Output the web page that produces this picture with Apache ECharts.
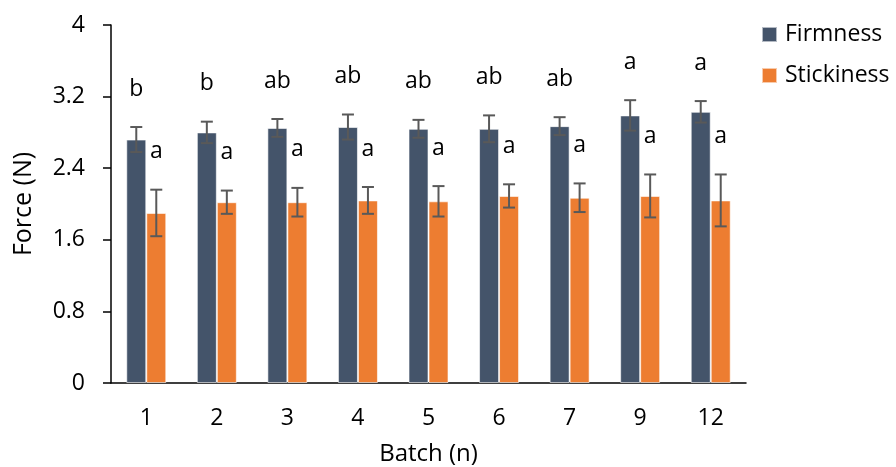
<!DOCTYPE html>
<html>
<head>
<meta charset="utf-8">
<script src="https://cdn.jsdelivr.net/npm/echarts@6/dist/echarts.min.js"></script>
<style>html,body{margin:0;padding:0;background:#fff}#c{width:896px;height:467px}</style>
</head>
<body>
<div id="c"></div>
<script>
var categories = ['1', '2', '3', '4', '5', '6', '7', '9', '12'];
var firmness = [2.72, 2.80, 2.85, 2.86, 2.84, 2.84, 2.87, 2.99, 3.03];
var firmnessErr = [0.14, 0.12, 0.10, 0.14, 0.10, 0.15, 0.10, 0.17, 0.12];
var stickiness = [1.90, 2.02, 2.02, 2.04, 2.03, 2.09, 2.07, 2.09, 2.04];
var stickinessErr = [0.26, 0.13, 0.16, 0.15, 0.17, 0.13, 0.16, 0.24, 0.29];
var firmnessLetters = ['b', 'b', 'ab', 'ab', 'ab', 'ab', 'ab', 'a', 'a'];
var stickinessLetters = ['a', 'a', 'a', 'a', 'a', 'a', 'a', 'a', 'a'];
var yTicks = [0, 0.8, 1.6, 2.4, 3.2, 4];

var FONT = '"Open Sans"';
var BAR_W = 20;
var COLORS = ['#44546A', '#ED7D31'];

function errSeries(name, vals, errs, letters, side) {
  var data = vals.map(function (v, i) { return [i, v, errs[i]]; });
  return {
    type: 'custom',
    name: name + '-err',
    data: data,
    z: 10,
    silent: true,
    renderItem: function (params, api) {
      var i = api.value(0), v = api.value(1), e = api.value(2);
      var c = api.coord([i, v]);
      var x = c[0] + side * BAR_W / 2;
      var top = api.coord([i, v + e])[1];
      var bot = api.coord([i, v - e])[1];
      var cap = 6;
      var st = { stroke: '#595959', lineWidth: 2 };
      return {
        type: 'group',
        children: [
          { type: 'line', shape: { x1: x, y1: top, x2: x, y2: bot }, style: st },
          { type: 'line', shape: { x1: x - cap, y1: top, x2: x + cap, y2: top }, style: st },
          { type: 'line', shape: { x1: x - cap, y1: bot, x2: x + cap, y2: bot }, style: st },
          { type: 'text', style: { x: x, y: top - 38, text: letters[params.dataIndex], fill: '#000',
              font: '23px ' + FONT, textAlign: 'center', textVerticalAlign: 'middle' } }
        ]
      };
    }
  };
}

var chart = echarts.init(document.getElementById('c'));
chart.setOption({
  animation: false,
  textStyle: { fontFamily: FONT },
  grid: { left: 111, right: 150, top: 25, bottom: 84, containLabel: false, outerBoundsMode: 'none' },
  legend: {
    orient: 'vertical', left: 756, top: 18,
    data: ['Firmness', 'Stickiness'],
    icon: 'rect', itemWidth: 15, itemHeight: 15, itemGap: 18,
    textStyle: { fontSize: 23, color: '#000', fontFamily: FONT, padding: [0, 0, 0, 3] }
  },
  xAxis: {
    type: 'category', data: categories,
    name: 'Batch (n)', nameLocation: 'middle', nameGap: 59,
    nameTextStyle: { fontSize: 24, color: '#000', fontFamily: FONT },
    axisLine: { lineStyle: { color: '#000', width: 1.5 } },
    axisTick: { length: 8, lineStyle: { color: '#000', width: 1.5 } },
    axisLabel: { fontSize: 23, color: '#000', margin: 24, fontFamily: FONT }
  },
  yAxis: {
    type: 'value', min: yTicks[0], max: yTicks[yTicks.length - 1], interval: 0.8,
    name: 'Force (N)', nameLocation: 'middle', nameGap: 75, nameRotate: 90,
    nameTextStyle: { fontSize: 25, color: '#000', fontFamily: FONT },
    splitLine: { show: false },
    axisLine: { show: true, lineStyle: { color: '#000', width: 1.5 } },
    axisTick: { show: true, length: 8, lineStyle: { color: '#000', width: 1.5 } },
    axisLabel: { fontSize: 23, color: '#000', margin: 26, fontFamily: FONT,
      formatter: function (v) { return String(Math.round(v * 10) / 10); } }
  },
  series: [
    { type: 'bar', name: 'Firmness', data: firmness, barWidth: BAR_W, barGap: '0%',
      itemStyle: { color: COLORS[0], borderColor: 'rgba(255,255,255,0.6)', borderWidth: 1 } },
    { type: 'bar', name: 'Stickiness', data: stickiness, barWidth: BAR_W, barGap: '0%',
      itemStyle: { color: COLORS[1], borderColor: 'rgba(255,255,255,0.6)', borderWidth: 1 } },
    errSeries('Firmness', firmness, firmnessErr, firmnessLetters, -1),
    errSeries('Stickiness', stickiness, stickinessErr, stickinessLetters, 1)
  ]
});
</script>
</body>
</html>
